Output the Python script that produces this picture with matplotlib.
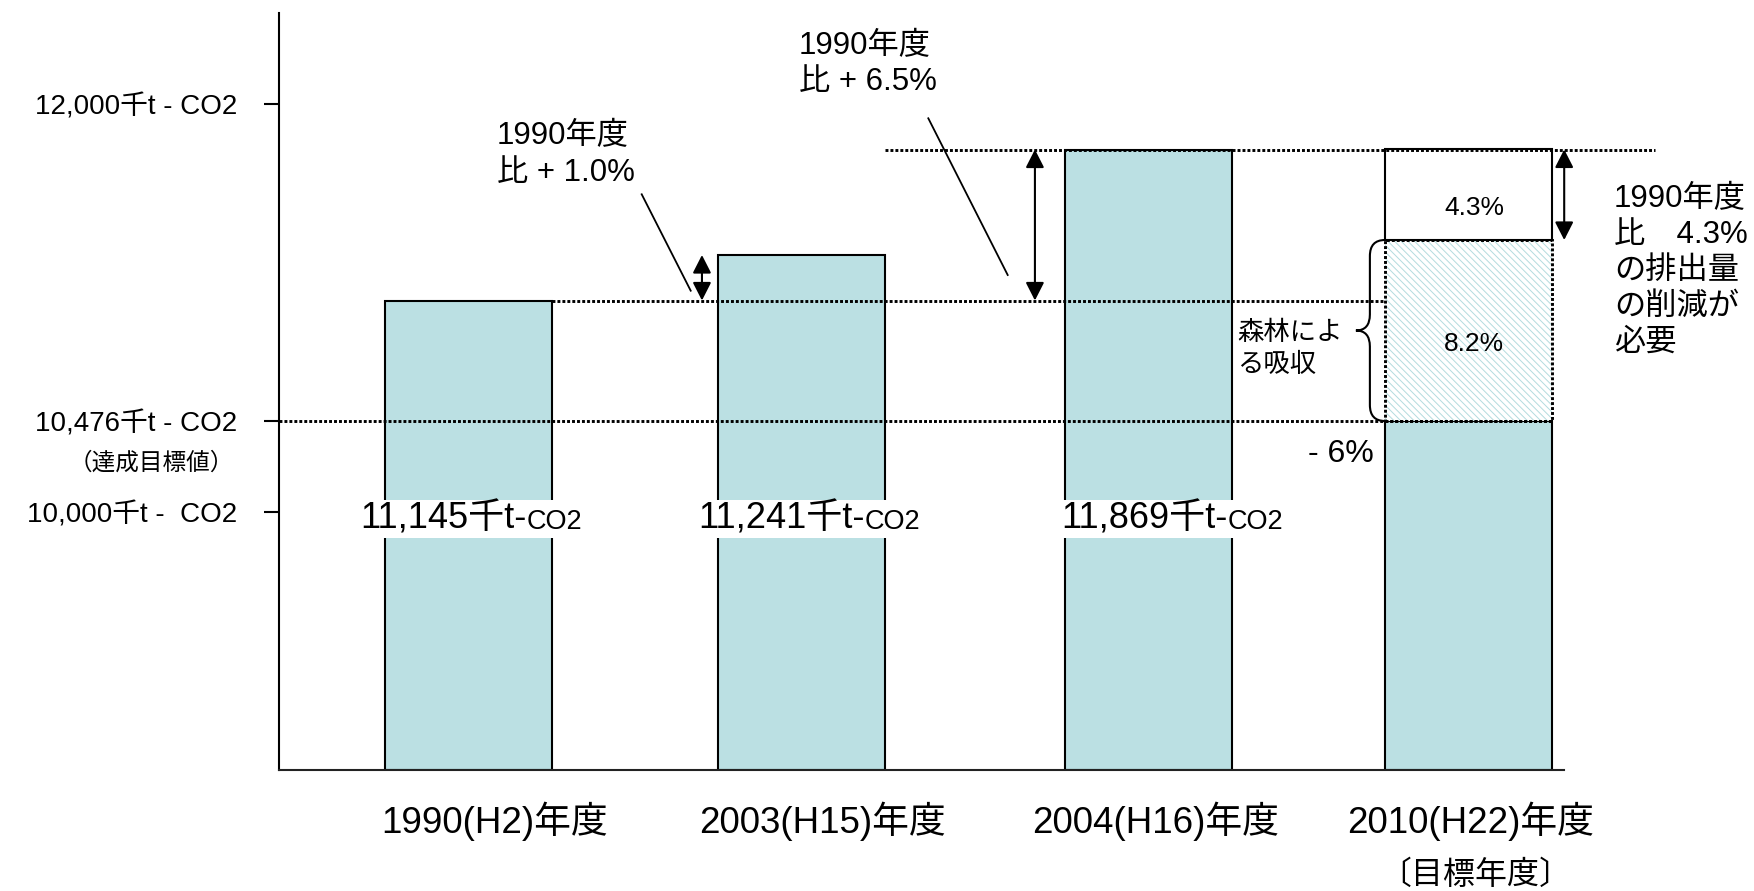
import numpy as np
import matplotlib.pyplot as plt
import matplotlib.transforms as mtransforms
from matplotlib.path import Path
from matplotlib.patches import PathPatch
from matplotlib.lines import Line2D
from matplotlib.offsetbox import TextArea, HPacker, AnnotationBbox

W, H = 1754, 891
plt.rcParams['font.family'] = ['Liberation Sans', 'Noto Sans CJK JP']
plt.rcParams['hatch.linewidth'] = 0.7

# data
year_labels = ['1990(H2)年度', '2003(H15)年度', '2004(H16)年度', '2010(H22)年度']
emissions = [11145, 11241, 11869]          # 1990, 2003, 2004
target = 10476                              # -6% of 1990
forest_pct = 8.2
reduce_pct = 4.3
tick_vals = [10000, 10476, 12000]
tick_labels = ['10,000千t -  CO2', '10,476千t - CO2', '12,000千t - CO2']

forest_top = target + emissions[0] * forest_pct / 100
reduce_top = forest_top + emissions[0] * reduce_pct / 100

# the original slide is not drawn to scale -> piecewise value->height mapping
scale_vals = [8650, 10000, 10476, 11145, 11241, 11390, 11869, 12000, 12420]
scale_px = [0, 257.6, 348.6, 469.1, 514.6, 529.6, 620.1, 665.6, 756.6]

def fwd(v):
    return np.interp(v, scale_vals, scale_px)

def inv(p):
    return np.interp(p, scale_px, scale_vals)

x_pos = [0, 1, 2.04, 3]
bar_w = 0.5
teal = '#bbe0e3'
ymin, ymax = 8650, 12420

fig = plt.figure(figsize=(W / 100, H / 100), dpi=100)
ax = fig.add_axes([278.5 / W, 1 - 769.6 / H, (1564 - 278.5) / W, (769.6 - 13) / H])
ax.set_yscale('function', functions=(fwd, inv))
ax.set_xlim(-0.5695, 3.2874)
ax.set_ylim(ymin, ymax)

def P(x, y):
    return x / W, 1 - y / H

# bars
for x, v in zip(x_pos[:3], emissions):
    ax.bar(x, v - ymin, bottom=ymin, width=bar_w, color=teal, edgecolor='black', lw=1.5, zorder=2)
x4 = x_pos[3]
ax.bar(x4, target - ymin, bottom=ymin, width=bar_w, color=teal, edgecolor='black', lw=1.5, zorder=2)
ax.bar(x4, forest_top - target, bottom=target, width=bar_w, color='white', edgecolor='#b3dbde',
       hatch='\\\\\\\\\\', lw=0, zorder=2)
ax.bar(x4, forest_top - target, bottom=target, width=bar_w, fill=False, edgecolor='black',
       linestyle=(0, (1, 0.7)), lw=2.1, zorder=3)
ax.bar(x4, reduce_top - forest_top, bottom=forest_top, width=bar_w, color='white',
       edgecolor='black', lw=1.5, zorder=3)

# dotted reference lines
dot = dict(color='black', lw=2.1, linestyle=(0, (1, 0.7)), zorder=4, clip_on=False)
ax.plot([x_pos[0] + bar_w / 2, x4 - bar_w / 2], [emissions[0]] * 2, **dot)
ax.plot([ax.get_xlim()[0], x4 + bar_w / 2], [target] * 2, **dot)
ax.plot([x_pos[1] + bar_w / 2, 3.56], [emissions[2]] * 2, **dot)

# double arrows
arr = dict(arrowstyle='<|-|>,head_length=0.55,head_width=0.28', lw=1.5, color='black',
           shrinkA=0, shrinkB=0, mutation_scale=20)
for xa, lo, hi in [(0.701, emissions[0], emissions[1]), (1.700, emissions[0], emissions[2]),
                   (3.288, forest_top, reduce_top)]:
    ax.annotate('', xy=(xa, hi), xytext=(xa, lo), arrowprops=arr, annotation_clip=False, zorder=5)

# axes styling
for s in ['top', 'right']:
    ax.spines[s].set_visible(False)
ax.spines['left'].set_linewidth(1.5)
ax.spines['bottom'].set_linewidth(1.5)
ax.spines['bottom'].set_color('#222222')
ax.set_yticks(tick_vals, tick_labels, fontsize=20)
ax.yaxis.set_minor_locator(plt.NullLocator())
ax.tick_params(axis='y', length=10.8, width=1.5, pad=18.7)
ax.set_xticks([])

# value labels on bars
blend = mtransforms.blended_transform_factory(ax.transData, ax.transAxes)
val_dx = [3, 8, 24]
for x, v, dx in zip(x_pos[:3], emissions, val_dx):
    box = HPacker(children=[TextArea(f'{v:,}千t-', textprops=dict(fontsize=26)),
                            TextArea('CO2', textprops=dict(fontsize=19.5))],
                  align='baseline', pad=0, sep=0)
    ab = AnnotationBbox(box, (x, 0.3312), xycoords=blend, xybox=(dx * 0.72, 0),
                        boxcoords='offset points', box_alignment=(0.5, 0.5),
                        bboxprops=dict(boxstyle='square,pad=0.1', fc='white', ec='none'),
                        zorder=6, annotation_clip=False)
    ax.add_artist(ab)

# x labels
lab_dx = [26, 21, 7, 2]
for x, lab, dx in zip(x_pos, year_labels, lab_dx):
    ax.annotate(lab, (x, -0.0679), xycoords=blend, xytext=(dx * 0.72, 0),
                textcoords='offset points', ha='center', va='center', fontsize=26.5,
                annotation_clip=False)
fig.text(*P(1475, 876), '〔目標年度〕', fontsize=23, ha='center', va='center')
fig.text(*P(151, 463), '（達成目標値）', fontsize=17, ha='center', va='center')

# annotations
fig.text(*P(497, 155), '1990年度\n比 + 1.0%', fontsize=22.5, ha='left', va='center', linespacing=1.3)
fig.text(*P(799, 64), '1990年度\n比 + 6.5%', fontsize=22.5, ha='left', va='center', linespacing=1.25)
fig.text(*P(1614, 271), '1990年度\n比　4.3%\nの排出量\nの削減が\n必要', fontsize=22.5,
         ha='left', va='center', linespacing=1.26)
fig.text(*P(1237, 349), '森林によ\nる吸収', fontsize=19, ha='left', va='center', linespacing=1.4)
fig.text(*P(1474, 208), '4.3%', fontsize=19, ha='center', va='center')
fig.text(*P(1474, 344), '8.2%', fontsize=19, ha='center', va='center')
fig.text(*P(1374, 454), '- 6%', fontsize=23, ha='right', va='center')

for (x1, y1), (x2, y2) in [((641.7, 194.3), (690.7, 290.7)), ((928.3, 118.3), (1007.7, 275))]:
    fig.add_artist(Line2D([x1 / W, x2 / W], [1 - y1 / H, 1 - y2 / H], transform=fig.transFigure,
                          color='black', lw=1.3))

# brace for forest absorption
x0, yt = ax.transData.transform((x4 - bar_w / 2, forest_top))
_, yb = ax.transData.transform((x4 - bar_w / 2, target))
ym = (yt + yb) / 2
xm, xt, r = x0 - 15, x0 - 29, 16
verts = [(x0, yt), (xm, yt), (xm, yt - r), (xm, ym + r), (xm, ym), (xt, ym),
         (xm, ym), (xm, ym - r), (xm, yb + r), (xm, yb), (x0, yb)]
codes = [Path.MOVETO, Path.CURVE3, Path.CURVE3, Path.LINETO, Path.CURVE3, Path.CURVE3,
         Path.CURVE3, Path.CURVE3, Path.LINETO, Path.CURVE3, Path.CURVE3]
fig.add_artist(PathPatch(Path(verts, codes), fill=False, lw=1.5, edgecolor='black',
                         transform=mtransforms.IdentityTransform()))

fig.savefig('out.png', dpi=100)
